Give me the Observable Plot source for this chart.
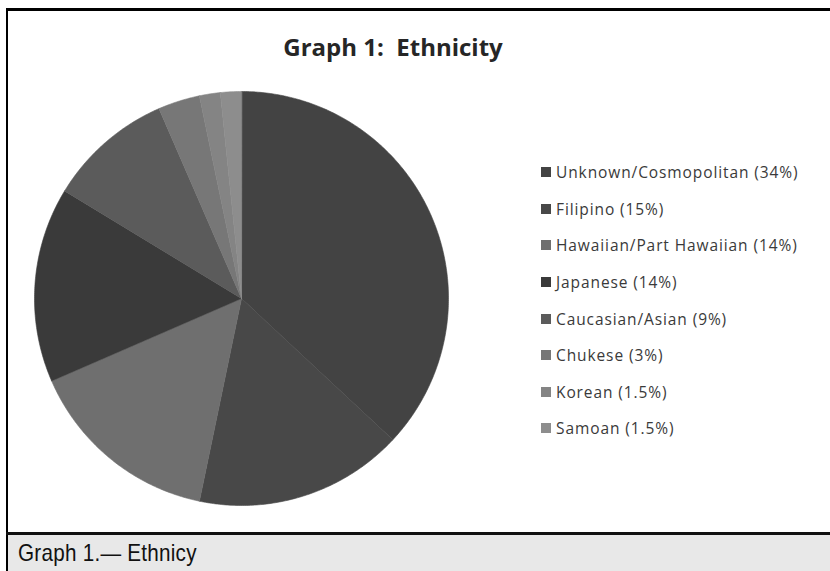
<!DOCTYPE html>
<html>
<head>
<meta charset="utf-8">
<script src="https://cdn.jsdelivr.net/npm/d3@7"></script>
<script src="https://cdn.jsdelivr.net/npm/@observablehq/plot@0.6"></script>
<style>
  html, body { margin: 0; padding: 0; background: #fff; width: 830px; height: 571px; overflow: hidden; }
  #page { position: relative; width: 830px; height: 571px; }
  #chart { position: absolute; left: 0; top: 0; }
  #topline { position: absolute; left: 6px; top: 8px; width: 824px; height: 3px; background: #000; }
  #leftline { position: absolute; left: 6px; top: 8px; width: 2px; height: 563px; background: #000; }
  #sepline { position: absolute; left: 6px; top: 532px; width: 824px; height: 3px; background: #111; }
  #capband { position: absolute; left: 8px; top: 535px; width: 822px; height: 36px; background: #e8e8e8; }
  #caption { position: absolute; left: 18px; top: 538px; font-family: "Liberation Sans", Arial, sans-serif; font-size: 24px; letter-spacing: 0.3px; color: #111; line-height: 30px; white-space: nowrap; transform: scaleX(0.86); transform-origin: 0 50%; }
  #title { position: absolute; left: 283px; top: 31px; width: 220px; text-align: center; font-family: "Open Sans", sans-serif; font-weight: 700; font-size: 24px; color: #262626; line-height: 32px; white-space: nowrap; }
  #legend { position: absolute; left: 541px; top: 154px; }
  #legend .lg-swatches { display: block !important; margin: 0 !important; font-family: "Open Sans", sans-serif !important; font-size: 15.5px !important; color: #3a3a3a !important; letter-spacing: 0.9px; }
  #legend .lg-swatch { display: flex !important; align-items: center !important; height: 36.6px !important; margin: 0 !important; padding: 0 !important; white-space: nowrap; }
  #legend .lg-swatch > svg { margin-right: 5px !important; }
</style>
</head>
<body>
<div id="page">
  <div id="chart"></div>
  <div id="title">Graph 1:&nbsp; Ethnicity</div>
  <div id="legend"></div>
  <div id="topline"></div>
  <div id="leftline"></div>
  <div id="capband"></div>
  <div id="sepline"></div>
  <div id="caption">Graph 1.— Ethnicy</div>
</div>
<script>
// ---- Data ----
const ethnicities = ["Unknown/Cosmopolitan", "Filipino", "Hawaiian/Part Hawaiian", "Japanese", "Caucasian/Asian", "Chukese", "Korean", "Samoan"];
const percents = [34, 15, 14, 14, 9, 3, 1.5, 1.5];

// ---- Styles (scale range) ----
const palette = ["#434343", "#484848", "#6f6f6f", "#3a3a3a", "#5b5b5b", "#777777", "#848484", "#8d8d8d"];

const data = ethnicities.map((name, i) => ({name, value: percents[i]}));

// Pie geometry computed from the data (angles clockwise from 12 o'clock)
const arcs = d3.pie().sort(null).value(d => d.value).startAngle(0).endAngle(2 * Math.PI)(data);
const piePoints = [];
for (const a of arcs) {
  const n = Math.max(2, Math.ceil((a.endAngle - a.startAngle) / 0.01));
  piePoints.push({name: a.data.name, px: 0, py: 0});
  for (let k = 0; k <= n; k++) {
    const t = a.startAngle + (a.endAngle - a.startAngle) * k / n;
    piePoints.push({name: a.data.name, px: Math.sin(t), py: Math.cos(t)});
  }
}

const chart = Plot.plot({
  width: 830,
  height: 532,
  margin: 0,
  x: {domain: [-1, 1], range: [34, 448], axis: null},
  y: {domain: [-1, 1], range: [505, 91], axis: null},
  color: {domain: ethnicities, range: palette},
  style: {background: "transparent"},
  marks: [
    Plot.line(piePoints, {x: "px", y: "py", z: "name", fill: "name", stroke: "name", strokeWidth: 0.6, curve: "linear-closed"})
  ]
});
document.getElementById("chart").appendChild(chart);

const pctOf = new Map(data.map(d => [d.name, d.value]));
const legend = Plot.legend({
  color: {domain: ethnicities, range: palette},
  legend: "swatches",
  swatchSize: 10,
  className: "lg",
  tickFormat: d => `${d} (${pctOf.get(d)}%)`
});
document.getElementById("legend").appendChild(legend);
</script>
</body>
</html>
